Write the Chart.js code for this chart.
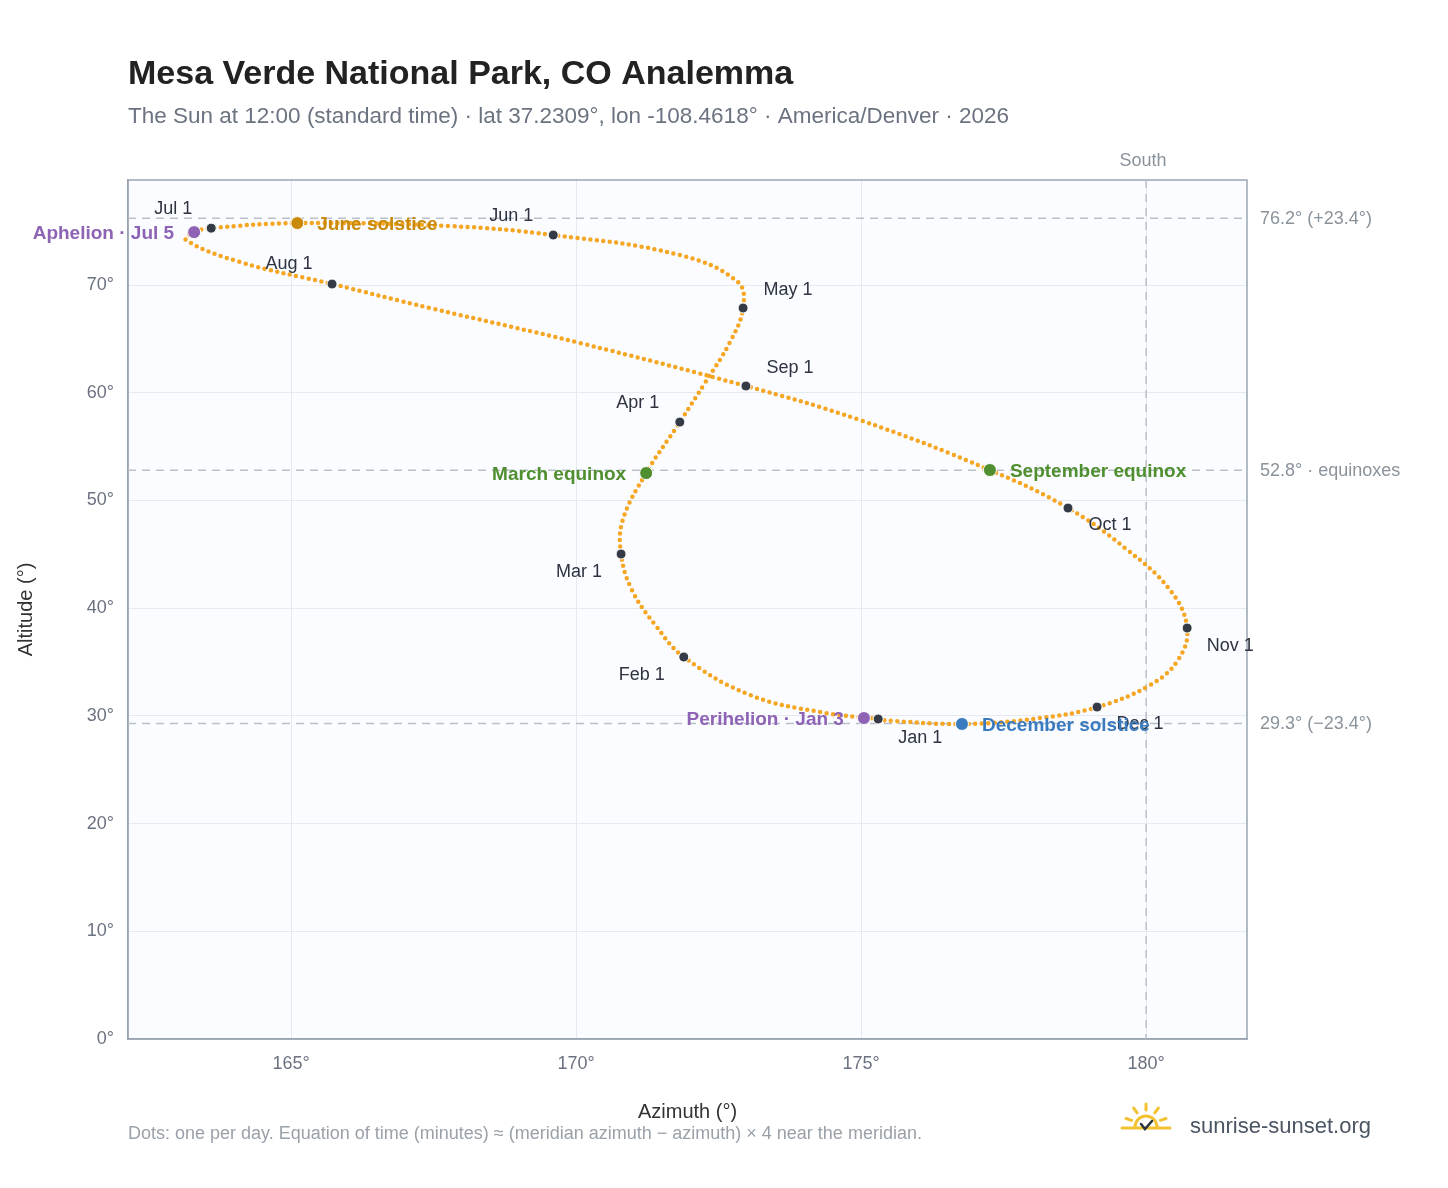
<!DOCTYPE html>
<html><head><meta charset="utf-8">
<script src="https://cdn.jsdelivr.net/npm/chart.js@4"></script>
<style>html,body{margin:0;padding:0;background:#fff}#w{width:1448px;height:1188px}</style>
</head><body><div id="w"><canvas id="c"></canvas></div>
<script>
// Analemma path (roughly every ~10 days)
const pathAz = [175.30,174.28,173.05,171.89,171.39,170.98,170.79,170.82,171.23,171.82,172.26,172.70,172.93,172.84,171.82,169.60,167.79,165.11,163.60,163.30,163.16,164.11,165.72,167.44,170.07,172.98,174.98,177.26,178.63,179.63,180.42,180.72,180.56,180.07,179.14,178.14,176.77,175.33,175.30];
const pathAlt = [29.71,30.36,31.94,35.47,38.44,41.69,45.03,48.19,52.55,57.28,60.91,64.71,67.87,70.28,72.79,74.65,75.48,75.76,75.29,74.92,74.18,72.14,70.10,67.87,64.62,60.63,57.47,52.83,49.30,45.59,41.69,38.16,35.19,32.87,30.82,29.80,29.25,29.62,29.71];
// Month-start markers
const monthLabels = ["Jan 1","Feb 1","Mar 1","Apr 1","May 1","Jun 1","Jul 1","Aug 1","Sep 1","Oct 1","Nov 1","Dec 1"];
const monthAz = [175.30,171.89,170.79,171.82,172.93,169.60,163.60,165.72,172.98,178.63,180.72,179.14];
const monthAlt = [29.71,35.47,45.03,57.28,67.87,74.65,75.29,70.10,60.63,49.30,38.16,30.82];
// Events
const eventLabels = ["Aphelion · Jul 5","June solstice","March equinox","September equinox","Perihelion · Jan 3","December solstice"];
const eventAz = [163.30,165.11,171.23,177.26,175.05,176.77];
const eventAlt = [74.92,75.76,52.55,52.83,29.80,29.25];
const eventColors = ["#8e63b5","#c98a0a","#4f8f2f","#4f8f2f","#8e63b5","#3a7abf"];
// Reference lines
const refAlt = [76.2,52.8,29.3];
const refLabels = ["76.2° (+23.4°)","52.8° · equinoxes","29.3° (−23.4°)"];
const southAz = 180;
const xTicks = [165,170,175,180];
const yTicks = [0,10,20,30,40,50,60,70];

// label styling offsets (pixels)
const monthOff = [[42,19],[-42,18],[-42,18],[-42,-19],[45,-18],[-42,-19],[-38,-19],[-43,-20],[44,-18],[42,17],[43,18],[43,17]];
const eventSide = [-1,1,-1,1,-1,1];

const FONT = "'Liberation Sans', Arial, Helvetica, sans-serif";
const deco = {
  id:'deco',
  beforeDraw(ch){
    const {ctx, chartArea:a} = ch;
    ctx.save(); ctx.fillStyle='#fafcff'; ctx.fillRect(a.left,a.top,a.right-a.left,a.bottom-a.top); ctx.restore();
  },
  beforeDatasetsDraw(ch){
    const {ctx, chartArea:a, scales:{x,y}} = ch;
    ctx.save(); ctx.strokeStyle='#9aa5b1'; ctx.lineWidth=1.5; ctx.strokeRect(a.left,a.top,a.right-a.left,a.bottom-a.top);
    ctx.strokeStyle='#b9c0c8'; ctx.setLineDash([8,6]);
    refAlt.forEach(v=>{const py=y.getPixelForValue(v); ctx.beginPath(); ctx.moveTo(a.left,py); ctx.lineTo(a.right,py); ctx.stroke();});
    const sx=x.getPixelForValue(southAz); ctx.beginPath(); ctx.moveTo(sx,a.top); ctx.lineTo(sx,a.bottom); ctx.stroke();
    ctx.setLineDash([]);
    ctx.fillStyle='#8a939c'; ctx.font='18px '+FONT; ctx.textBaseline='middle'; ctx.textAlign='left';
    refAlt.forEach((v,i)=>ctx.fillText(refLabels[i], a.right+13, y.getPixelForValue(v)+1));
    ctx.textAlign='center'; ctx.fillText('South', sx-3, a.top-19);
    ctx.restore();
  },
  afterDatasetsDraw(ch){
    const {ctx, chartArea:a, scales:{x,y}} = ch;
    ctx.save(); ctx.textBaseline='middle';
    ctx.font='18px '+FONT; ctx.fillStyle='#2d3340'; ctx.textAlign='center';
    monthLabels.forEach((t,i)=>ctx.fillText(t, x.getPixelForValue(monthAz[i])+monthOff[i][0], y.getPixelForValue(monthAlt[i])+monthOff[i][1]));
    ctx.font='bold 19px '+FONT;
    eventLabels.forEach((t,i)=>{ctx.fillStyle=eventColors[i]; ctx.textAlign=eventSide[i]<0?'right':'left';
      ctx.fillText(t, x.getPixelForValue(eventAz[i])+eventSide[i]*20, y.getPixelForValue(eventAlt[i])+2);});
    ctx.restore();
  },
  afterDraw(ch){
    const {ctx} = ch;
    ctx.save(); ctx.textBaseline='alphabetic'; ctx.textAlign='left';
    ctx.fillStyle='#222'; ctx.font='bold 34px '+FONT; ctx.fillText('Mesa Verde National Park, CO Analemma',128,84);
    ctx.fillStyle='#6b7280'; ctx.font='22.5px '+FONT; ctx.fillText('The Sun at 12:00 (standard time) · lat 37.2309°, lon -108.4618° · America/Denver · 2026',128,123);
    ctx.fillStyle='#9aa1a9'; ctx.font='18px '+FONT; ctx.fillText('Dots: one per day. Equation of time (minutes) ≈ (meridian azimuth − azimuth) × 4 near the meridian.',128,1139);
    ctx.fillStyle='#4b5563'; ctx.font='22px '+FONT; ctx.fillText('sunrise-sunset.org',1190,1133);
    // sun icon
    const cx=1146, cy=1127; ctx.strokeStyle='#f2c230'; ctx.lineWidth=3; ctx.lineCap='round';
    ctx.beginPath(); ctx.arc(cx,cy,11,Math.PI,2*Math.PI); ctx.stroke();
    for(let k=0;k<5;k++){const ang=Math.PI+(k+0.5)*Math.PI/5; const r1=15,r2=21; ctx.beginPath(); ctx.moveTo(cx+r1*Math.cos(ang),cy+r1*Math.sin(ang)-2); ctx.lineTo(cx+r2*Math.cos(ang),cy+r2*Math.sin(ang)-2); ctx.stroke();}
    ctx.beginPath(); ctx.moveTo(cx-24,cy+1); ctx.lineTo(cx+24,cy+1); ctx.stroke();
    ctx.strokeStyle='#2d3340'; ctx.lineWidth=2.5; ctx.beginPath(); ctx.moveTo(cx-5,cy-3); ctx.lineTo(cx-1,cy+2); ctx.lineTo(cx+6,cy-6); ctx.stroke();
    ctx.restore();
  }
};

new Chart(document.getElementById('c'), {
  type:'scatter',
  data:{datasets:[
    {data:pathAz.map((v,i)=>({x:v,y:pathAlt[i]})), showLine:true, tension:0.4, borderColor:'#f5a623', borderWidth:4.5, borderDash:[0,6.5], borderCapStyle:'round', pointRadius:0, order:3},
    {data:monthAz.map((v,i)=>({x:v,y:monthAlt[i]})), pointRadius:5, pointBackgroundColor:'#343a46', pointBorderColor:'#fff', pointBorderWidth:1, order:2},
    {data:eventAz.map((v,i)=>({x:v,y:eventAlt[i]})), pointRadius:6.5, pointBackgroundColor:eventColors, pointBorderColor:'#fff', pointBorderWidth:1, order:1}
  ]},
  options:{
    responsive:true, maintainAspectRatio:false, animation:false,
    layout:{padding:{left:10,right:201,top:180,bottom:60}},
    plugins:{legend:{display:false},tooltip:{enabled:false}},
    scales:{
      x:{type:'linear',min:162.14,max:181.77,
        afterBuildTicks:s=>{s.ticks=xTicks.map(v=>({value:v}));},
        afterFit:s=>{s.height=89;},
        ticks:{callback:v=>v+'°',color:'#6b7280',font:{size:18,family:FONT},padding:14},
        grid:{color:'#e6e9ed',drawTicks:false},border:{color:'#9aa5b1',width:1.5},
        title:{display:true,text:'Azimuth (°)',color:'#333',font:{size:20,family:FONT},padding:{top:4}}},
      y:{type:'linear',min:0,max:79.76,
        afterBuildTicks:s=>{s.ticks=yTicks.map(v=>({value:v}));},
        afterFit:s=>{s.width=118;},
        ticks:{callback:v=>v+'°',color:'#6b7280',font:{size:18,family:FONT},padding:14},
        grid:{color:'#e6e9ed',drawTicks:false},border:{color:'#9aa5b1',width:1.5},
        title:{display:true,text:'Altitude (°)',color:'#333',font:{size:20,family:FONT}}}
    }
  },
  plugins:[deco]
});
</script></body></html>
